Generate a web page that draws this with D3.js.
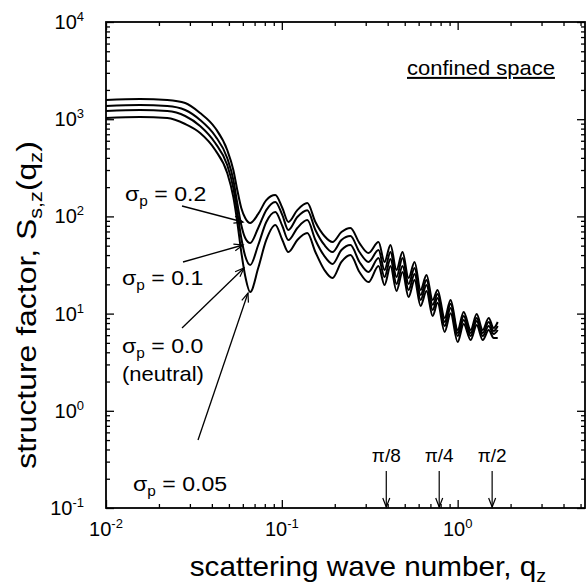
<!DOCTYPE html>
<html>
<head>
<meta charset="utf-8">
<script src="https://cdn.jsdelivr.net/npm/d3@7"></script>
<style>
  body { margin: 0; background: #fff; }
  svg { display: block; }
  text { font-family: "Liberation Sans", Arial, sans-serif; fill: #000; }
</style>
</head>
<body>
<div id="chart"></div>
<script>
// scattering wave number q_z (shared by all curves)
const qValues = [0.010, 0.0156, 0.0223, 0.0282, 0.0343, 0.0418, 0.0489, 0.0530, 0.0558, 0.0588,
    0.0619, 0.0661, 0.0734, 0.0816, 0.0918, 0.1007, 0.1089, 0.1225, 0.1396, 0.1552,
    0.1746, 0.1941, 0.2183, 0.2455, 0.2764, 0.3112, 0.3548, 0.3837, 0.4150, 0.4487,
    0.4860, 0.5257, 0.5689, 0.6152, 0.6653, 0.7205, 0.7691, 0.8433, 0.9120, 1.000,
    1.082, 1.186, 1.283, 1.388, 1.502, 1.603, 1.690];

// structure factor S_s,z for each surface charge
const sigma02 = [1576, 1614, 1576, 1468, 1158, 812, 482, 300, 187, 122,
    96.3, 85.5, 106, 147, 166, 122, 87.6, 116, 137, 87.6,
    62.9, 54.5, 69.1, 76.0, 53.2, 42.0, 54.5, 34.0, 50.8, 28.1,
    43.0, 23.2, 34.0, 17.5, 24.9, 13.8, 17.5, 9.01, 13.8, 6.78,
    10.4, 6.78, 9.91, 6.78, 9.01, 7.11, 8.20];
const sigma01 = [1367, 1400, 1367, 1243, 981, 672, 399, 237, 137, 81.5,
    59.9, 53.2, 76.0, 116, 141, 103, 72.5, 98.6, 116, 72.5,
    50.8, 43.0, 57.2, 62.9, 43.0, 34.0, 45.1, 28.1, 43.0, 23.8,
    37.3, 20.2, 29.4, 15.5, 22.2, 12.3, 15.9, 8.20, 12.6, 6.32,
    9.45, 6.32, 9.01, 6.32, 8.20, 6.62, 7.45];
const sigma00 = [1214, 1243, 1214, 1079, 851, 569, 338, 196, 111, 59.9,
    39.1, 31.6, 50.8, 87.6, 111, 79.6, 57.2, 76.0, 91.8, 57.2,
    39.1, 32.4, 45.1, 50.8, 34.0, 26.8, 37.3, 23.8, 36.5, 20.2,
    30.9, 17.5, 25.6, 13.8, 19.7, 10.9, 14.5, 7.45, 11.4, 5.88,
    8.60, 5.88, 8.39, 5.88, 7.45, 6.17, 6.78];
const sigma005 = [1029, 1053, 1029, 892, 721, 482, 280, 158, 87.6, 43.0,
    24.4, 16.7, 29.4, 57.2, 81.5, 57.2, 43.0, 57.2, 67.5, 43.0,
    28.1, 23.2, 34.0, 40.1, 26.8, 21.1, 30.9, 19.7, 30.9, 17.1,
    26.8, 14.8, 22.2, 12.0, 17.1, 9.45, 12.9, 6.47, 10.1, 5.10,
    7.82, 5.35, 7.63, 5.35, 6.78, 5.61, 5.61];

// axis decades
const xDecades = [-2, -1, 0];
const yDecades = [-1, 0, 1, 2, 3, 4];

// marked wave numbers
const markLabels = ["\u03c0/8", "\u03c0/4", "\u03c0/2"];
const markQ = [Math.PI / 8, Math.PI / 4, Math.PI / 2];

const width = 587;
const height = 588;
const plot = { left: 106, right: 585, top: 22, bottom: 508 };

const svg = d3.select("#chart")
    .append("svg")
    .attr("width", width)
    .attr("height", height);

let x = d3.scaleLog()
    .domain([0.01, 5.3])
    .range([plot.left, plot.right]);

let y = d3.scaleLog()
    .domain([0.1, 1e4])
    .range([plot.bottom, plot.top]);

// minor ticks 2..9 in each decade
function minorTicks(lo, hi) {
    let out = [];
    for (let e = Math.floor(Math.log10(lo)); e <= Math.ceil(Math.log10(hi)); e++) {
        for (let m = 2; m <= 9; m++) {
            let v = m * Math.pow(10, e);
            if (v > lo && v < hi) out.push(v);
        }
    }
    return out;
}
const xMinor = minorTicks(0.01, 5.3);
const yMinor = minorTicks(0.1, 1e4);
const xMajor = xDecades.map(e => Math.pow(10, e));
const yMajor = yDecades.map(e => Math.pow(10, e));

function drawAxis(axisFn, scale, values, size, transform) {
    svg.append("g")
        .attr("class", "axis")
        .attr("transform", transform)
        .call(axisFn(scale).tickValues(values).tickSize(size).tickFormat(""))
        .call(g => g.select(".domain").remove())
        .call(g => g.selectAll("line").attr("stroke", "#000").attr("stroke-width", 1.3));
}

// inward ticks on all four sides
drawAxis(d3.axisBottom, x, xMinor, -4, "translate(0," + plot.bottom + ")");
drawAxis(d3.axisBottom, x, xMajor, -8, "translate(0," + plot.bottom + ")");
drawAxis(d3.axisTop, x, xMinor, -4, "translate(0," + plot.top + ")");
drawAxis(d3.axisTop, x, xMajor, -8, "translate(0," + plot.top + ")");
drawAxis(d3.axisLeft, y, yMinor, -4, "translate(" + plot.left + ",0)");
drawAxis(d3.axisLeft, y, yMajor, -8, "translate(" + plot.left + ",0)");
drawAxis(d3.axisRight, y, yMinor, -4, "translate(" + plot.right + ",0)");
drawAxis(d3.axisRight, y, yMajor, -8, "translate(" + plot.right + ",0)");

// frame
svg.append("rect")
    .attr("x", plot.left)
    .attr("y", plot.top)
    .attr("width", plot.right - plot.left)
    .attr("height", plot.bottom - plot.top)
    .attr("fill", "none")
    .attr("stroke", "#000")
    .attr("stroke-width", 1.8);

// text placed at (px, py), widened a little like the scanned original
function addText(px, py, size, stretch) {
    return svg.append("text")
        .attr("transform", "translate(" + px + "," + py + ") scale(" + stretch + ",1)")
        .attr("font-size", size);
}

// power-of-ten labels
function powerLabel(g, e) {
    g.append("tspan").text("10");
    g.append("tspan").attr("dy", -8).attr("font-size", 13).text(e);
}

yDecades.forEach(e => {
    let t = addText(84, y(Math.pow(10, e)) + 7, 20, 1)
        .attr("text-anchor", "end");
    powerLabel(t, e);
});

xDecades.forEach(e => {
    let t = addText(x(Math.pow(10, e)), 536, 20, 1)
        .attr("text-anchor", "middle");
    powerLabel(t, e);
});

// axis titles
let xt = addText(368, 576, 27, 1.1)
    .attr("text-anchor", "middle");
xt.append("tspan").text("scattering wave number, q");
xt.append("tspan").attr("dy", 6).attr("font-size", 18).text("z");

let yt = svg.append("text")
    .attr("transform", "translate(36,305) rotate(-90) scale(1.14,1)")
    .attr("text-anchor", "middle")
    .attr("font-size", 28);
yt.append("tspan").text("structure factor, S");
yt.append("tspan").attr("dy", 6).attr("font-size", 19).text("s,z");
yt.append("tspan").attr("dy", -6).text("(q");
yt.append("tspan").attr("dy", 6).attr("font-size", 19).text("z");
yt.append("tspan").attr("dy", -6).text(")");

// curves
const series = [sigma02, sigma01, sigma00, sigma005];
let line = d3.line()
    .x((d, i) => x(qValues[i]))
    .y(d => y(d))
    .curve(d3.curveMonotoneX);

svg.append("g")
    .selectAll("path")
    .data(series)
    .join("path")
    .attr("d", d => line(d))
    .attr("fill", "none")
    .attr("stroke", "#000")
    .attr("stroke-width", 2);

// arrow head
svg.append("defs").append("marker")
    .attr("id", "head")
    .attr("viewBox", "-10 -5 12 10")
    .attr("refX", 0)
    .attr("refY", 0)
    .attr("markerWidth", 12)
    .attr("markerHeight", 10)
    .attr("markerUnits", "userSpaceOnUse")
    .attr("orient", "auto")
    .append("path")
    .attr("d", "M-9,-3.5L0,0L-9,3.5")
    .attr("fill", "none")
    .attr("stroke", "#000")
    .attr("stroke-width", 1.2);

// sigma labels with leader arrows
const notes = [
    { val: "0.2", tx: 125, ty: 201, from: [182, 206], to: [243, 222] },
    { val: "0.1", tx: 122, ty: 285, from: [183, 262], to: [243, 245] },
    { val: "0.0", tx: 122, ty: 353, from: [182, 328], to: [244, 268] },
    { val: "0.05", tx: 133, ty: 491, from: [198, 440], to: [248, 293] }
];

notes.forEach(n => {
    let t = addText(n.tx, n.ty, 21, 1.1);
    t.append("tspan").text("\u03c3");
    t.append("tspan").attr("dy", 5).attr("font-size", 14).text("p");
    t.append("tspan").attr("dy", -5).text(" = " + n.val);

    svg.append("line")
        .attr("x1", n.from[0]).attr("y1", n.from[1])
        .attr("x2", n.to[0]).attr("y2", n.to[1])
        .attr("stroke", "#000")
        .attr("stroke-width", 1.3)
        .attr("marker-end", "url(#head)");
});

addText(122, 381, 20, 1.1).text("(neutral)");

// corner note
addText(407, 75, 20, 1.1)
    .attr("text-decoration", "underline")
    .text("confined space");

// pi markers on the q axis
markQ.forEach((q, i) => {
    svg.append("text")
        .attr("x", x(q))
        .attr("y", 462)
        .attr("text-anchor", "middle")
        .attr("font-family", "Liberation Serif, Times New Roman, serif")
        .attr("font-size", 19)
        .text(markLabels[i]);

    svg.append("line")
        .attr("x1", x(q)).attr("y1", 471)
        .attr("x2", x(q)).attr("y2", plot.bottom - 1)
        .attr("stroke", "#000")
        .attr("stroke-width", 1.2)
        .attr("marker-end", "url(#head)");
});
</script>
</body>
</html>
